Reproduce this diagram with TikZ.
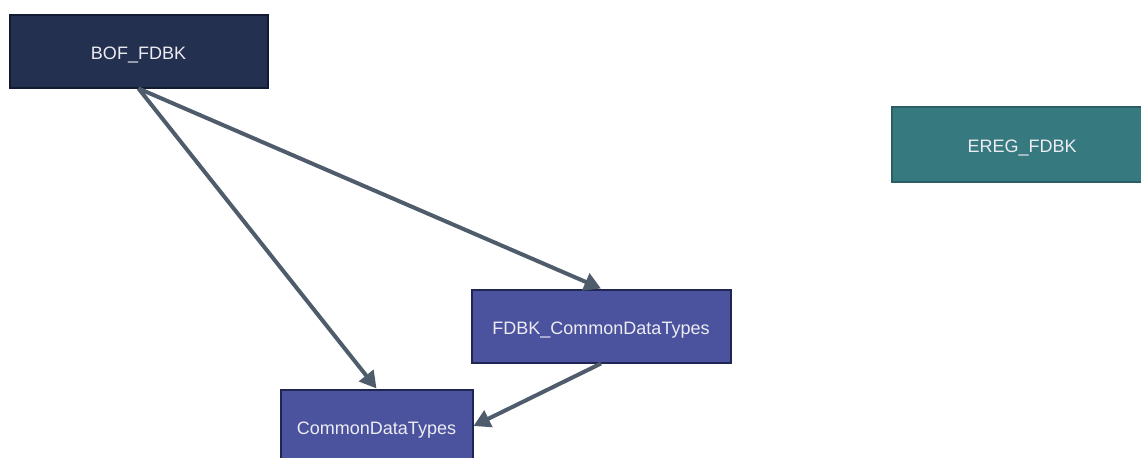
\documentclass[tikz,border=0pt]{standalone}
\usepackage{fontspec}
\setmainfont{Liberation Sans}
\usetikzlibrary{arrows.meta}
\definecolor{navyfill}{HTML}{243050}
\definecolor{navyline}{HTML}{131B32}
\definecolor{bluefill}{HTML}{4B539F}
\definecolor{blueline}{HTML}{1F2652}
\definecolor{tealfill}{HTML}{367A80}
\definecolor{tealline}{HTML}{2A5E63}
\definecolor{arrowcol}{HTML}{4F5C6C}
\definecolor{txt}{HTML}{ECECF2}
\tikzset{
  box/.style={draw, line width=1.5pt, rectangle, inner sep=0pt, text=txt,
    font=\fontsize{13.5pt}{16pt}\selectfont, anchor=center,
    text height=12.7pt, text depth=0pt},
  conn/.style={draw=arrowcol, line width=3pt, -{Triangle[length=12.5pt,width=13.5pt]}},
}
\begin{document}
\begin{tikzpicture}[x=0.75pt,y=-0.75pt]
\useasboundingbox (0,0) rectangle (1141,457);
\clip (0,0) rectangle (1141,457);
\node[box, fill=navyfill, draw=navyline, minimum width=258*0.75pt, minimum height=73*0.75pt] (bof) at (138.5,51) {BOF\_FDBK};
\node[box, fill=tealfill, draw=tealline, minimum width=260*0.75pt, minimum height=75*0.75pt] (ereg) at (1022,144) {EREG\_FDBK};
\node[box, fill=bluefill, draw=blueline, minimum width=259*0.75pt, minimum height=73*0.75pt] (fdbk) at (601,326) {FDBK\_CommonDataTypes};
\node[box, fill=bluefill, draw=blueline, minimum width=192*0.75pt, minimum height=73*0.75pt] (cdt) at (376.5,426) {CommonDataTypes};
\draw[conn] (bof.south) -- (cdt.north);
\draw[conn] (bof.south) -- (fdbk.north);
\draw[conn] (fdbk.south) -- (cdt.east);
\end{tikzpicture}
\end{document}
